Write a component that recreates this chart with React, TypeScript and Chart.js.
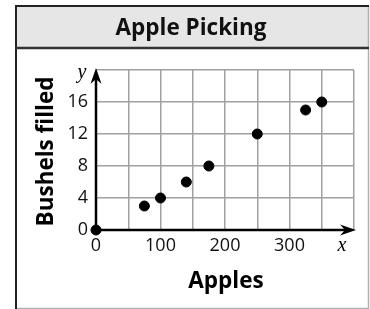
import React, { useEffect, useRef } from "react";
import { Chart, registerables } from "chart.js";

Chart.register(...registerables);

const chartTitle = "Apple Picking";
const xAxisTitle = "Apples";
const yAxisTitle = "Bushels filled";
const applesPicked = [0, 75, 100, 140, 175, 250, 325, 350];
const bushelsFilled = [0, 3, 4, 6, 8, 12, 15, 16];
const xTickLabels = [0, 100, 200, 300];
const yTickLabels = [0, 4, 8, 12, 16];

const SANS = "'Open Sans', 'Noto Sans', sans-serif";

const framePlugin = {
  id: "frame",
  beforeDraw(chart: any) {
    const ctx = chart.ctx;
    ctx.save();
    ctx.fillStyle = "#ffffff";
    ctx.fillRect(0, 0, chart.width, chart.height);
    // header band
    ctx.fillStyle = "#e6e6e6";
    ctx.fillRect(15, 5, 354, 43);
    // borders
    ctx.strokeStyle = "#b0b0b0";
    ctx.lineWidth = 1.5;
    ctx.beginPath();
    ctx.moveTo(368.5, 5);
    ctx.lineTo(368.5, 308.5);
    ctx.lineTo(15, 308.5);
    ctx.stroke();
    ctx.strokeStyle = "#222";
    ctx.lineWidth = 2;
    ctx.beginPath();
    ctx.moveTo(16, 309);
    ctx.lineTo(16, 6);
    ctx.lineTo(369, 6);
    ctx.stroke();
    ctx.strokeStyle = "#333";
    ctx.lineWidth = 2.5;
    ctx.beginPath();
    ctx.moveTo(15, 48);
    ctx.lineTo(369, 48);
    ctx.stroke();
    // title
    ctx.fillStyle = "#111";
    ctx.font = `bold 22.5px ${SANS}`;
    ctx.textAlign = "center";
    ctx.textBaseline = "alphabetic";
    ctx.fillText(chartTitle, 191, 34.5);
    ctx.restore();
  },
  beforeDatasetsDraw(chart: any) {
    const ctx = chart.ctx;
    const xs = chart.scales.x;
    const ys = chart.scales.y;
    const x0 = xs.getPixelForValue(0);
    const y0 = ys.getPixelForValue(0);
    const xEnd = xs.getPixelForValue(400) + 2;
    const yEnd = ys.getPixelForValue(20) - 2;
    ctx.save();
    ctx.strokeStyle = "#000";
    ctx.fillStyle = "#000";
    ctx.lineWidth = 2.5;
    ctx.beginPath();
    ctx.moveTo(x0, y0);
    ctx.lineTo(xEnd - 8, y0);
    ctx.moveTo(x0, y0);
    ctx.lineTo(x0, yEnd + 8);
    ctx.stroke();
    // x arrow head
    ctx.beginPath();
    ctx.moveTo(xEnd, y0);
    ctx.lineTo(xEnd - 16, y0 - 5.5);
    ctx.lineTo(xEnd - 11, y0);
    ctx.lineTo(xEnd - 16, y0 + 5.5);
    ctx.closePath();
    ctx.fill();
    // y arrow head
    ctx.beginPath();
    ctx.moveTo(x0, yEnd);
    ctx.lineTo(x0 - 5.5, yEnd + 16);
    ctx.lineTo(x0, yEnd + 11);
    ctx.lineTo(x0 + 5.5, yEnd + 16);
    ctx.closePath();
    ctx.fill();
    // italic axis letters
    ctx.font = "italic 20px 'Liberation Serif', serif";
    ctx.textAlign = "center";
    ctx.textBaseline = "alphabetic";
    ctx.fillText("y", 82, 78);
    ctx.fillText("x", 342, 251);
    // axis titles
    ctx.font = `bold 22.5px ${SANS}`;
    ctx.fillText(xAxisTitle, 226, 287.5);
    ctx.translate(52.5, 151.5);
    ctx.rotate(-Math.PI / 2);
    ctx.fillText(yAxisTitle, 0, 0);
    ctx.restore();
  },
};

export default function App() {
  const canvasRef = useRef<HTMLCanvasElement | null>(null);

  useEffect(() => {
    if (!canvasRef.current) return;
    const points = applesPicked.map((a, i) => ({ x: a, y: bushelsFilled[i] }));
    const chart = new Chart(canvasRef.current, {
      type: "scatter",
      data: {
        datasets: [
          {
            data: points,
            backgroundColor: "#000",
            borderColor: "#000",
            pointRadius: 5,
            pointHoverRadius: 5,
            clip: false as any,
          },
        ],
      },
      plugins: [framePlugin],
      options: {
        responsive: false,
        animation: false,
        devicePixelRatio: 1,
        layout: { padding: { left: 0, top: 70, right: 16, bottom: 0 } },
        plugins: { legend: { display: false }, tooltip: { enabled: false }, title: { display: false } },
        scales: {
          x: {
            type: "linear",
            min: 0,
            max: 400,
            afterFit: (s: any) => {
              s.height = 79;
            },
            border: { display: false },
            grid: { color: "#a0a0a0", lineWidth: 1.5, drawTicks: false },
            ticks: {
              stepSize: 50,
              autoSkip: false,
              maxRotation: 0,
              padding: 5,
              color: "#111",
              font: { family: SANS, size: 18 },
              callback: (v: any) => (xTickLabels.includes(Number(v)) ? String(v) : ""),
            },
          },
          y: {
            type: "linear",
            min: 0,
            max: 20,
            afterFit: (s: any) => {
              s.width = 96;
            },
            border: { display: false },
            grid: { color: "#a0a0a0", lineWidth: 1.5, drawTicks: false },
            ticks: {
              stepSize: 4,
              autoSkip: false,
              padding: 8,
              color: "#111",
              font: { family: SANS, size: 18 },
              callback: (v: any) => (yTickLabels.includes(Number(v)) ? String(v) : ""),
            },
          },
        },
      },
    });
    return () => chart.destroy();
  }, []);

  return (
    <div style={{ position: "absolute", left: 0, top: 0, width: 370, height: 309 }}>
      <canvas ref={canvasRef} width={370} height={309} style={{ display: "block" }} />
    </div>
  );
}
